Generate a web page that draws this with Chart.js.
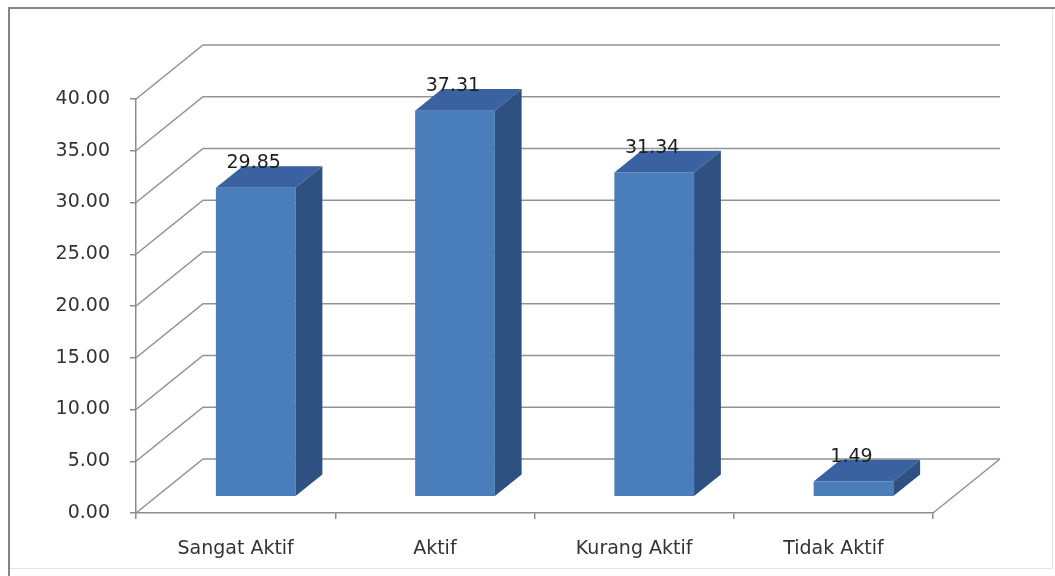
<!DOCTYPE html>
<html>
<head>
<meta charset="utf-8">
<script src="https://cdn.jsdelivr.net/npm/chart.js@4"></script>
<style>
  html, body { margin: 0; padding: 0; background: #fff; }
  #wrap { width: 1055px; height: 576px; position: relative; }
</style>
</head>
<body>
<div id="wrap"><canvas id="activityChart"></canvas></div>
<script>
const categories = ['Sangat Aktif', 'Aktif', 'Kurang Aktif', 'Tidak Aktif'];
const percentages = [29.85, 37.31, 31.34, 1.49];
const yTicks = [0, 5, 10, 15, 20, 25, 30, 35, 40];

// 3D look: how far the back wall sits from the front plane
const DEPTH_X = 67;
const DEPTH_Y = -54;
const BAR_FRONT = 0.3;   // fraction of depth where the column front face is
const BAR_BACK = 0.7;

const FRONT_COLOR = '#4a7ebb';
const TOP_COLOR = '#3a62a0';
const SIDE_COLOR = '#2e5182';
const GRID_COLOR = '#939393';
const AXIS_COLOR = '#8c8c8c';
const FONT = '"DejaVu Sans", sans-serif';

const frameAndWalls = {
  id: 'frameAndWalls',
  beforeDraw(chart) {
    const ctx = chart.ctx;
    ctx.save();
    ctx.fillStyle = '#fff';
    ctx.fillRect(0, 0, chart.width, chart.height);
    ctx.strokeStyle = '#e4e4e4';
    ctx.lineWidth = 1;
    ctx.strokeRect(9.5, 8.5, 1043, 560);
    ctx.strokeStyle = '#858585';
    ctx.lineWidth = 2;
    ctx.beginPath();
    ctx.moveTo(9, 576);
    ctx.lineTo(9, 8);
    ctx.lineTo(1055, 8);
    ctx.stroke();
    ctx.restore();
  },
  beforeDatasetsDraw(chart) {
    const { ctx, chartArea: a, scales: { y } } = chart;
    ctx.save();
    ctx.strokeStyle = GRID_COLOR;
    ctx.lineWidth = 1.6;
    yTicks.forEach(v => {
      const py = y.getPixelForValue(v);
      ctx.beginPath();
      ctx.moveTo(a.left, py);
      ctx.lineTo(a.left + DEPTH_X, py + DEPTH_Y);
      ctx.lineTo(a.right + DEPTH_X, py + DEPTH_Y);
      ctx.stroke();
    });
    // right edge of the floor
    ctx.beginPath();
    ctx.moveTo(a.right, a.bottom);
    ctx.lineTo(a.right + DEPTH_X, a.bottom + DEPTH_Y);
    ctx.stroke();
    ctx.restore();

    // columns are pushed back into the scene
    ctx.save();
    ctx.translate(DEPTH_X * BAR_FRONT, DEPTH_Y * BAR_FRONT);
  },
  afterDatasetsDraw(chart) {
    const ctx = chart.ctx;
    const meta = chart.getDatasetMeta(0);
    const dx = DEPTH_X * (BAR_BACK - BAR_FRONT);
    const dy = DEPTH_Y * (BAR_BACK - BAR_FRONT);
    meta.data.forEach(bar => {
      const l = bar.x - bar.width / 2;
      const r = bar.x + bar.width / 2;
      const t = bar.y;
      const b = bar.base;
      // top face
      ctx.fillStyle = TOP_COLOR;
      ctx.beginPath();
      ctx.moveTo(l, t);
      ctx.lineTo(l + dx, t + dy);
      ctx.lineTo(r + dx, t + dy);
      ctx.lineTo(r, t);
      ctx.closePath();
      ctx.fill();
      // side face
      ctx.fillStyle = SIDE_COLOR;
      ctx.beginPath();
      ctx.moveTo(r, t);
      ctx.lineTo(r + dx, t + dy);
      ctx.lineTo(r + dx, b + dy);
      ctx.lineTo(r, b);
      ctx.closePath();
      ctx.fill();
    });
    ctx.restore();

    // value labels above each column
    ctx.save();
    ctx.font = '19px ' + FONT;
    ctx.fillStyle = '#1e1e1e';
    ctx.textAlign = 'center';
    ctx.textBaseline = 'middle';
    meta.data.forEach((bar, i) => {
      const x = bar.x + DEPTH_X * BAR_FRONT - 2;
      const yTop = bar.y + DEPTH_Y * BAR_BACK - 3;
      ctx.fillText(percentages[i].toFixed(2), x, yTop);
    });
    ctx.restore();
  }
};

new Chart(document.getElementById('activityChart'), {
  type: 'bar',
  data: {
    labels: categories,
    datasets: [{
      data: percentages,
      backgroundColor: FRONT_COLOR,
      borderWidth: 0,
      categoryPercentage: 1,
      barPercentage: 0.4
    }]
  },
  options: {
    responsive: true,
    maintainAspectRatio: false,
    animation: false,
    layout: { padding: { top: 99, right: 122, left: 0, bottom: 0 } },
    plugins: {
      legend: { display: false },
      tooltip: { enabled: false }
    },
    scales: {
      x: {
        afterFit: s => { s.height = 63; },
        grid: {
          offset: true,
          drawOnChartArea: false,
          drawTicks: true,
          tickLength: 6,
          color: AXIS_COLOR,
          lineWidth: 1.5
        },
        border: { display: true, color: AXIS_COLOR, width: 1.5 },
        ticks: { color: '#333', font: { family: FONT, size: 19 }, padding: 19 }
      },
      y: {
        min: 0,
        max: 40,
        afterFit: s => { s.width = 136; },
        grid: {
          drawOnChartArea: false,
          drawTicks: true,
          tickLength: 6,
          color: AXIS_COLOR,
          lineWidth: 1.5
        },
        border: { display: true, color: AXIS_COLOR, width: 1.5 },
        ticks: {
          stepSize: 5,
          color: '#333',
          padding: 20,
          font: { family: FONT, size: 19 },
          callback: v => Number(v).toFixed(2)
        }
      }
    }
  },
  plugins: [frameAndWalls]
});
</script>
</body>
</html>
